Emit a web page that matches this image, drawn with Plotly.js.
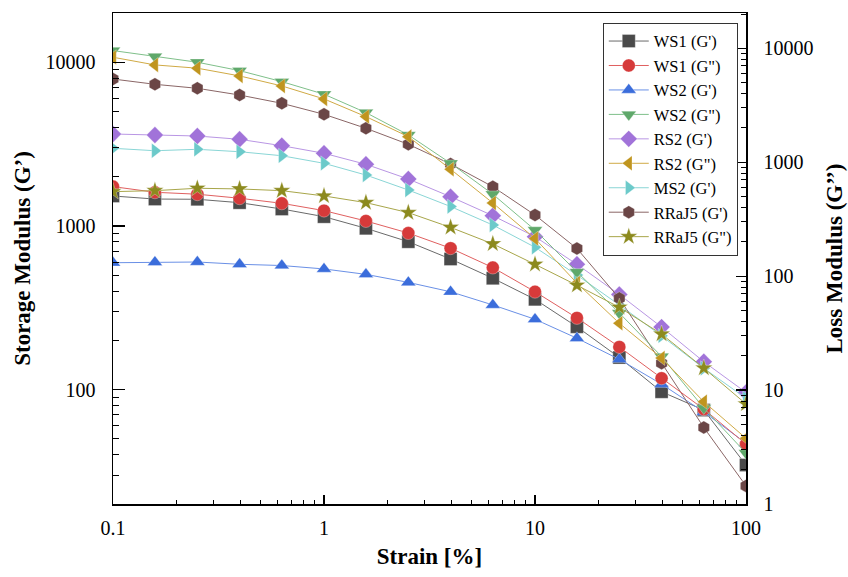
<!DOCTYPE html>
<html>
<head>
<meta charset="utf-8">
<script src="https://cdn.plot.ly/plotly-3.0.1.min.js"></script>
<style>html,body{margin:0;padding:0;background:#fff;}#chart{width:848px;height:577px;}</style>
</head>
<body>
<div id="chart"></div>
<script>
// Strain [%]
const strain = [0.1, 0.158, 0.251, 0.398, 0.631, 1, 1.58, 2.51, 3.98, 6.31, 10, 15.8, 25.1, 39.8, 63.1, 100];

// Storage modulus G' (left axis)
const ws1_Gp   = [1524, 1460, 1455, 1387, 1269, 1139, 967, 801, 628, 479, 356, 242, 157, 97, 75, 34.6];
const ws2_Gp   = [596, 600, 602, 583, 573, 546, 506, 452, 396, 329, 269, 206, 153, 108, 73, 47];
const rs2_Gp   = [3645, 3594, 3544, 3383, 3092, 2778, 2380, 1935, 1508, 1155, 860, 583, 381, 241, 148, 96];
const ms2_Gp   = [2981, 2881, 2939, 2841, 2685, 2413, 2047, 1658, 1314, 1013, 741, 501, 329, 213, 135, 88.5];
const rraj5_Gp = [7900, 7334, 6933, 6308, 5614, 4809, 3949, 3153, 2390, 1737, 1166, 728, 361, 145, 58.7, 25.8];

// Loss modulus G'' (right axis)
const ws1_Gpp   = [611, 545, 524, 483, 436, 376, 305, 239, 176, 119, 73, 43, 23.9, 12.7, 6.8, 3.36];
const ws2_Gpp   = [9550, 8455, 7550, 6370, 5100, 3955, 2726, 1737, 980, 524, 254, 109, 47.5, 19.7, 6.96, 2.8];
const rs2_Gpp   = [8350, 7150, 6690, 5725, 4675, 3595, 2515, 1678, 868, 439, 214, 87, 38.6, 19.1, 7.9, 3.77];
const rraj5_Gpp = [552, 563, 591, 583, 563, 506, 442, 361, 268, 192, 127, 83.2, 53.3, 31, 15.6, 7.55];

const names = ["WS1 (G')", 'WS1 (G")', "WS2 (G')", 'WS2 (G")', "RS2 (G')", 'RS2 (G")', "MS2 (G')", "RRaJ5 (G')", 'RRaJ5 (G")'];

const FONT = 'Liberation Serif';

function tr(name, y, axis, symbol, mcolor, lcolor) {
  return {
    x: strain, y: y, name: name, yaxis: axis, type: 'scatter', mode: 'lines+markers',
    line: {color: lcolor, width: 1},
    marker: {symbol: symbol, size: 13, color: mcolor, line: {color: 'rgba(255,255,255,0.6)', width: 0.5}}
  };
}

const data = [
  tr(names[0], ws1_Gp,   'y',  'square',         '#4a4a4a', '#6a6a6a'),
  tr(names[1], ws1_Gpp,  'y2', 'circle',         '#d63a3a', '#e06060'),
  tr(names[2], ws2_Gp,   'y',  'triangle-up',    '#3b6ddb', '#6a90e6'),
  tr(names[3], ws2_Gpp,  'y2', 'triangle-down',  '#5fa86a', '#7fc08a'),
  tr(names[4], rs2_Gp,   'y',  'diamond',        '#a173d9', '#b996e4'),
  tr(names[5], rs2_Gpp,  'y2', 'triangle-left',  '#c0951f', '#d0aa45'),
  tr(names[6], ms2_Gp,   'y',  'triangle-right', '#6ccaca', '#8ad6d6'),
  tr(names[7], rraj5_Gp, 'y',  'hexagon',        '#6b4646', '#8a6666'),
  tr(names[8], rraj5_Gpp,'y2', 'star',           '#8c8a1e', '#a8a64a')
];

function minors(lo, hi) {
  const out = [];
  for (let e = lo; e <= hi; e++) for (let m = 2; m <= 9; m++) out.push(m * Math.pow(10, e));
  return out;
}

const tickFont = {family: FONT, size: 20, color: '#000'};
const titleFont = {family: FONT, size: 23, color: '#000', weight: 'bold'};

const layout = {
  width: 848, height: 577,
  margin: {l: 113, r: 102, t: 13, b: 73},
  paper_bgcolor: '#fff', plot_bgcolor: '#fff',
  showlegend: true,
  legend: {
    x: 0.987, y: 0.98, xanchor: 'right', yanchor: 'top',
    bgcolor: '#fff', bordercolor: '#333', borderwidth: 1,
    font: {family: FONT, size: 16.5, color: '#000'},
    tracegroupgap: 0, itemwidth: 40
  },
  xaxis: {
    type: 'log', range: [-1, 2],
    showline: true, linecolor: '#000', linewidth: 1.5, mirror: true,
    showgrid: false, zeroline: false,
    ticks: 'inside', ticklen: 9, tickwidth: 1.2, tickcolor: '#000',
    tickvals: [0.1, 1, 10, 100], ticktext: ['0.1', '1', '10', '100'],
    ticklabelstandoff: 5,
    minor: {tickvals: minors(-1, 1), ticks: 'inside', ticklen: 4, tickwidth: 1, tickcolor: '#000', showgrid: false},
    tickfont: tickFont,
    title: {text: 'Strain [%]', font: titleFont, standoff: 10}
  },
  yaxis: {
    type: 'log', range: [Math.log10(20), Math.log10(20000)],
    showline: true, linecolor: '#000', linewidth: 1.5,
    showgrid: false, zeroline: false,
    ticks: 'inside', ticklen: 12, tickwidth: 1.2, tickcolor: '#000',
    tickvals: [100, 1000, 10000], ticktext: ['100', '1000', '10000'],
    ticklabelstandoff: 12,
    minor: {tickvals: minors(1, 4), ticks: 'inside', ticklen: 6, tickwidth: 1, tickcolor: '#000', showgrid: false},
    tickfont: tickFont,
    title: {text: 'Storage Modulus (G’)', font: titleFont, standoff: 8}
  },
  yaxis2: {
    type: 'log', range: [0, 4.31], overlaying: 'y', side: 'right',
    showline: true, linecolor: '#000', linewidth: 1.5,
    showgrid: false, zeroline: false,
    ticks: 'inside', ticklen: 10, tickwidth: 1.2, tickcolor: '#000',
    tickvals: [1, 10, 100, 1000, 10000], ticktext: ['1', '10', '100', '1000', '10000'],
    ticklabelstandoff: 12,
    minor: {tickvals: minors(0, 4), ticks: 'inside', ticklen: 5, tickwidth: 1, tickcolor: '#000', showgrid: false},
    tickfont: tickFont,
    title: {text: 'Loss Modulus (G’’)', font: titleFont, standoff: 13}
  }
};

Plotly.newPlot('chart', data, layout, {staticPlot: true, displayModeBar: false});
</script>
</body>
</html>
